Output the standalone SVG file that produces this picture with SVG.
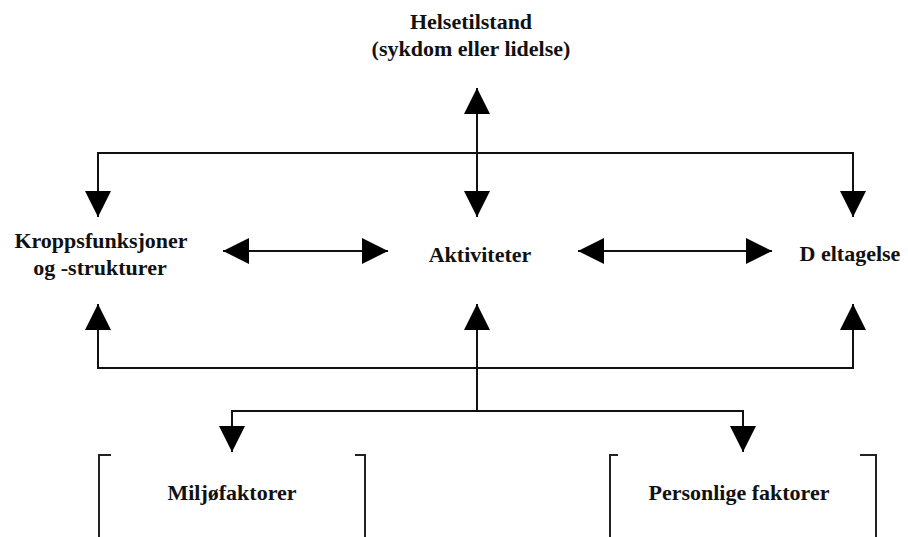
<svg xmlns="http://www.w3.org/2000/svg" width="908" height="537" viewBox="0 0 908 537">
  <style>
    .t { font-family: "Liberation Serif", "Times New Roman", "DejaVu Serif", serif; font-weight: bold; font-size: 22px; fill: #111; text-anchor: middle; }
    .c { fill: none; stroke: #111; stroke-width: 2; }
    .b { fill: none; stroke: #222; stroke-width: 2; }
  </style>
  <defs>
    <marker id="ah" markerUnits="userSpaceOnUse" markerWidth="26" markerHeight="26" viewBox="0 0 24 24" refX="24" refY="12" orient="auto-start-reverse">
      <path d="M0,0 L24,12 L0,24 Z" fill="#000"/>
    </marker>
  </defs>
  <rect width="908" height="537" fill="#fff"/>

  <g id="connectors">
    <polyline class="c" points="98,217 98,153 853,153 853,217" marker-start="url(#ah)" marker-end="url(#ah)"/>
    <line class="c" x1="477" y1="88" x2="477" y2="217" marker-start="url(#ah)" marker-end="url(#ah)"/>
    <line class="c" x1="223" y1="251" x2="388" y2="251" marker-start="url(#ah)" marker-end="url(#ah)"/>
    <line class="c" x1="578" y1="251" x2="772" y2="251" marker-start="url(#ah)" marker-end="url(#ah)"/>
    <polyline class="c" points="98,304 98,368 853,368 853,304" marker-start="url(#ah)" marker-end="url(#ah)"/>
    <line class="c" x1="477" y1="410" x2="477" y2="304" marker-end="url(#ah)"/>
    <polyline class="c" points="232,452 232,411 743,411 743,452" marker-start="url(#ah)" marker-end="url(#ah)"/>
  </g>

  <g id="helsetilstand">
    <text class="t" x="471" y="29">Helsetilstand</text>
    <text class="t" x="471" y="56">(sykdom eller lidelse)</text>
  </g>
  <g id="kroppsfunksjoner">
    <text class="t" x="101" y="248">Kroppsfunksjoner</text>
    <text class="t" x="100" y="275">og -strukturer</text>
  </g>
  <g id="aktiviteter">
    <text class="t" x="480" y="262">Aktiviteter</text>
  </g>
  <g id="deltagelse">
    <text class="t" x="850" y="261">D eltagelse</text>
  </g>
  <g id="miljofaktorer">
    <path class="b" d="M111,455 H99 V537 M355,455 H365 V537"/>
    <text class="t" x="232" y="500">Miljøfaktorer</text>
  </g>
  <g id="personlige">
    <path class="b" d="M618,455 H610 V537 M860,455 H876 V537"/>
    <text class="t" x="739" y="500">Personlige faktorer</text>
  </g>
</svg>
